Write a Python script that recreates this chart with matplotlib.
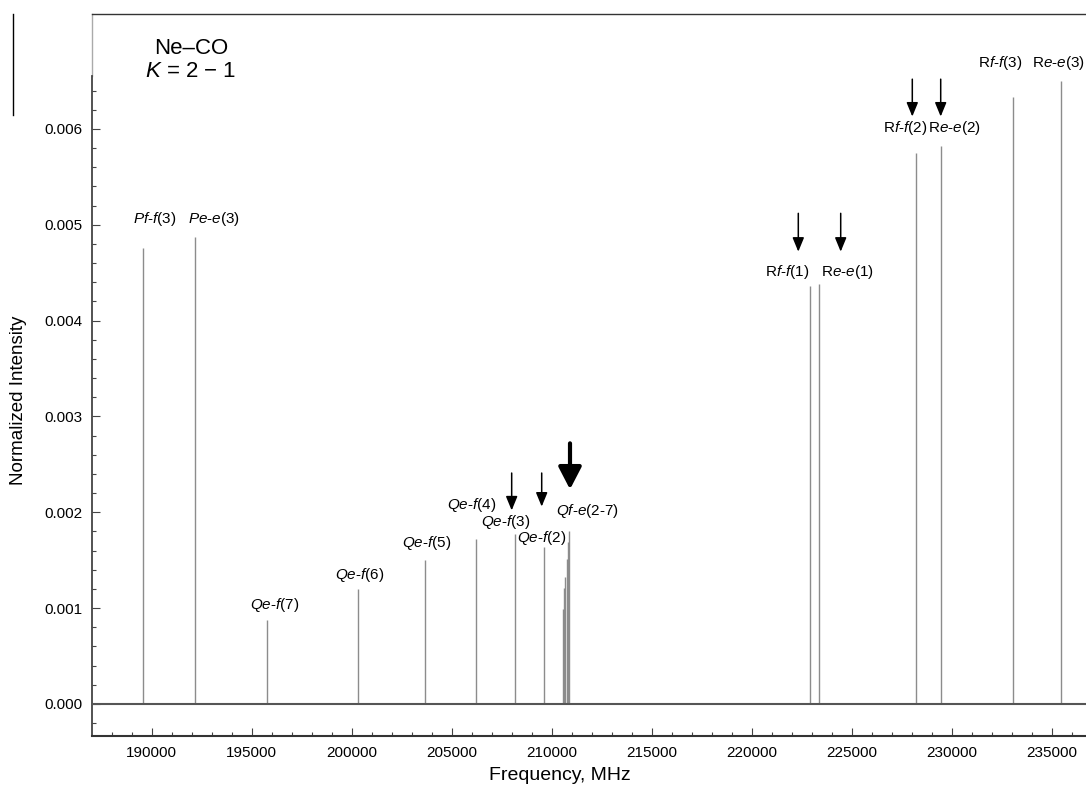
import numpy as np
import matplotlib
matplotlib.use('Agg')
import matplotlib.pyplot as plt
from matplotlib.lines import Line2D
from matplotlib.ticker import MultipleLocator, FormatStrFormatter

plt.rcParams['font.family'] = ['Liberation Sans', 'DejaVu Sans']
plt.rcParams['mathtext.fontset'] = 'custom'
plt.rcParams['mathtext.rm'] = 'Liberation Sans'
plt.rcParams['mathtext.it'] = 'Liberation Sans:italic'

# Ne-CO K = 2 - 1 sub-band: line frequencies (MHz) and normalized intensities
p_freq = [189580, 192180]
p_int = [0.00476, 0.00487]

qef_freq = [195780, 200300, 203665, 206215, 208170, 209600]  # Qe-f(7) .. Qe-f(2)
qef_int = [0.000877, 0.00120, 0.00150, 0.00172, 0.00177, 0.00164]

qfe_freq = [210550, 210615, 210680, 210750, 210815, 210880]  # Qf-e(7) .. Qf-e(2)
qfe_int = [0.00099, 0.00121, 0.00132, 0.00151, 0.00169, 0.00181]

r_freq = [222915, 223350, 228230, 229465, 233050, 235465]
r_int = [0.00436, 0.00438, 0.00575, 0.00582, 0.00633, 0.00650]

freqs = np.array(p_freq + qef_freq + qfe_freq + r_freq)
intens = np.array(p_int + qef_int + qfe_int + r_int)

# line labels and where their text goes (freq, intensity)
labels = [r'$Pf$-$f$(3)', r'$Pe$-$e$(3)',
          r'$Qe$-$f$(7)', r'$Qe$-$f$(6)', r'$Qe$-$f$(5)', r'$Qe$-$f$(4)',
          r'$Qe$-$f$(3)', r'$Qe$-$f$(2)', r'$Qf$-$e$(2-7)',
          r'R$f$-$f$(1)', r'R$e$-$e$(1)', r'R$f$-$f$(2)', r'R$e$-$e$(2)',
          r'R$f$-$f$(3)', r'R$e$-$e$(3)']
label_xy = [(190165, 0.00506), (193115, 0.00506),
            (196165, 0.00103), (200415, 0.00135), (203765, 0.00168), (205998, 0.00208),
            (207715, 0.00190), (209515, 0.00173), (211790, 0.00201),
            (221790, 0.00451), (224765, 0.00451), (227655, 0.00601), (230115, 0.00601),
            (232440, 0.00669), (235315, 0.00669)]

# arrows marking the lines (freq, y start, y tip)
arrows = [(207999, 0.00241, 0.00202), (209500, 0.00241, 0.00206),
          (222330, 0.00512, 0.00472), (224450, 0.00512, 0.00472),
          (228030, 0.00652, 0.00613), (229450, 0.00652, 0.00613)]
big_arrow = (210915, 0.00272, 0.00224)

fig = plt.figure(figsize=(10.86, 7.89), dpi=100)
ax = fig.add_axes([92/1086, 1 - 736/789, 1 - 92/1086, (736 - 14)/789])

ax.vlines(freqs, 0, intens, color='#8c8c8c', lw=1.0)
ax.axhline(0, color='#555555', lw=1.5, zorder=3)

for s, (x, y) in zip(labels, label_xy):
    ax.text(x, y, s, ha='center', va='center', fontsize=11)

for x, y0, y1 in arrows:
    ax.annotate('', xy=(x, y1), xytext=(x, y0),
                arrowprops=dict(arrowstyle='-|>,head_length=0.85,head_width=0.35',
                                color='black', lw=1.1, shrinkA=0, shrinkB=0))
x, y0, y1 = big_arrow
ax.annotate('', xy=(x, y1), xytext=(x, y0),
            arrowprops=dict(arrowstyle='-|>,head_length=1.35,head_width=0.7',
                            color='black', lw=3, shrinkA=0, shrinkB=0))

ax.text(191965, 0.00684, 'Ne\u2013CO', ha='center', va='center', fontsize=16)
ax.text(191965, 0.00660, r'$K$ = 2 $-$ 1', ha='center', va='center', fontsize=16)

ax.set_xlim(187015, 236715)
ax.set_ylim(-0.000334, 0.0072)

for side in ['right']:
    ax.spines[side].set_visible(False)
ax.spines['top'].set_color('#333333')
ax.spines['top'].set_linewidth(1.0)
ax.spines['left'].set_bounds(-0.000334, 0.00655)
ax.spines['left'].set_color('#444444')
ax.spines['left'].set_linewidth(1.3)
ax.spines['bottom'].set_color('#333333')
ax.spines['bottom'].set_linewidth(1.5)
ax.plot([0, 0], [0.00655, 0.0072], color='#aaaaaa', lw=1.0,
        transform=ax.get_yaxis_transform(), clip_on=False)

ax.xaxis.set_major_locator(MultipleLocator(5000))
ax.xaxis.set_minor_locator(MultipleLocator(1000))
ax.yaxis.set_major_locator(MultipleLocator(0.001))
ax.yaxis.set_minor_locator(MultipleLocator(0.0002))
ax.yaxis.set_major_formatter(FormatStrFormatter('%.3f'))
ax.set_yticks(np.arange(0, 0.0061, 0.001))
ax.set_yticks(np.arange(-0.0002, 0.00645, 0.0002), minor=True)
ax.tick_params(axis='both', which='major', direction='in', length=6, width=0.8,
               labelsize=11, color='#444444')
ax.tick_params(axis='both', which='minor', direction='in', length=3, width=0.8,
               color='#444444')
ax.tick_params(axis='x', pad=7)
ax.tick_params(axis='y', pad=7)

fig.text(560/1086, 1 - 776/789, 'Frequency, MHz', ha='center', va='center', fontsize=14)
fig.text(19/1086, 1 - 400/789, 'Normalized Intensity', ha='center', va='center',
         rotation=90, fontsize=13.5)

# thin border left over at the top left of the page
fig.add_artist(Line2D([13/1086, 13/1086], [1 - 14/789, 1 - 115/789], color='black', lw=1.0))

fig.savefig('out.png', dpi=100)
